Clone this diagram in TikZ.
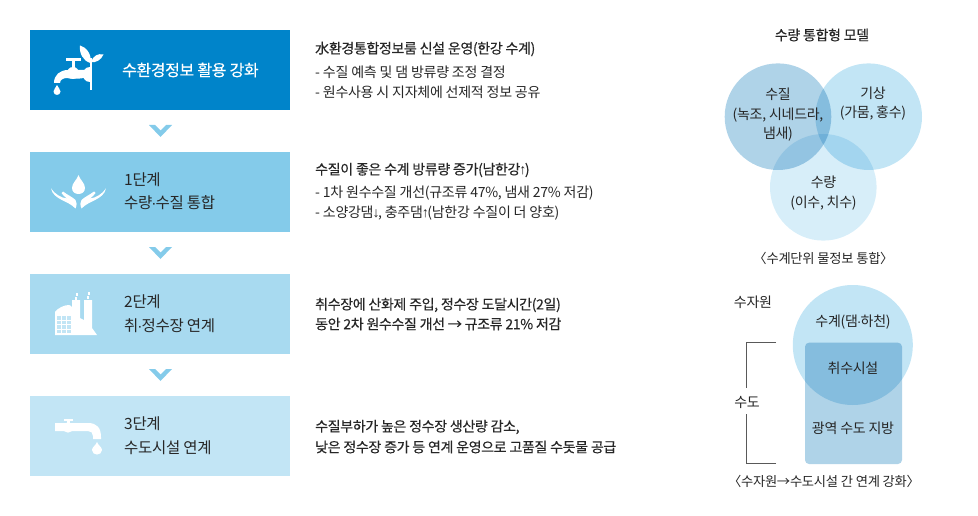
\documentclass[tikz,border=0pt]{standalone}
\usepackage{xcolor}
\usepackage{fontspec}
\setmainfont{Noto Sans CJK KR}
\newfontfamily\medfont[FakeBold=0.35,LetterSpace=-2.5]{Noto Sans CJK KR}
\newfontfamily\regfont[LetterSpace=-2]{Noto Sans CJK KR}
\newfontfamily\arrfont{Liberation Sans}
\newcommand{\thinup}{{\arrfont\kern-1pt ↑\kern-1.5pt}}
\newcommand{\thindown}{{\arrfont\kern-1pt ↓\kern-1.5pt}}
\newcommand{\thindot}{{\arrfont\kern-1pt ·\kern-1pt}}
\definecolor{stepA}{HTML}{0084CA}
\definecolor{stepB}{HTML}{84CBEA}
\definecolor{stepC}{HTML}{A8DAF0}
\definecolor{stepD}{HTML}{C2E5F5}
\definecolor{stepE}{HTML}{AFD3E8}
\definecolor{inkdark}{HTML}{262626}
\tikzset{
  lbl/.style={anchor=west,inner sep=0pt,text=inkdark,font=\regfont\fontsize{14}{16}\selectfont},
  lblhead/.style={lbl,font=\medfont\fontsize{14}{16}\selectfont},
  steptitle/.style={lbl,font=\regfont\fontsize{15.5}{18}\selectfont},
  midlbl/.style={inner sep=0pt,text=inkdark,align=center,font=\regfont\fontsize{14}{19.5}\selectfont},
  midhead/.style={midlbl,font=\medfont\fontsize{14}{19.5}\selectfont},
  caplbl/.style={midlbl,font=\regfont\fontsize{13.3}{16}\selectfont},
  bracket/.style={draw=black!65,line width=0.8pt},
}
\begin{document}
\begin{tikzpicture}[x=1pt,y=-1pt]
\useasboundingbox (0,0) rectangle (978,516);

% step boxes
\fill[stepA] (30,30) rectangle (290,110);
\fill[stepB] (30,152) rectangle (290,232);
\fill[stepC] (30,274) rectangle (290,354);
\fill[stepD] (30,396) rectangle (290,476);

% chevrons
\fill[stepB] (149,125) -- (155,125) -- (160.5,130.5) -- (166,125) -- (172,125) -- (160.5,137) -- cycle;
\fill[stepB] (149,247) -- (155,247) -- (160.5,252.5) -- (166,247) -- (172,247) -- (160.5,259) -- cycle;
\fill[stepB] (149,369) -- (155,369) -- (160.5,374.5) -- (166,369) -- (172,369) -- (160.5,381) -- cycle;

% icon: tap with leaf
\fill[white] (90,58) rectangle (91.5,90);
\fill[white] (90.5,63) .. controls (92,54) and (86,47) .. (80,45.5) .. controls (79,53) and (83,61) .. (90.5,63);
\fill[white] (91,62) .. controls (93,56) and (98,53) .. (103.5,54.5) .. controls (101,60) and (96,63) .. (91,62);
\fill[white] (90,67) .. controls (85,67) and (83,71) .. (83,74.5) .. controls (83,78) and (85,82) .. (90,82) -- cycle;
\fill[white] (84,70) -- (68,70) .. controls (60,70) and (54,75) .. (54,83) -- (60,83) .. controls (60,80) and (63,78) .. (67,78) .. controls (70,79) and (78,79) .. (84,78) -- cycle;
\fill[white] (73,73) circle (6);
\fill[white] (72,58) rectangle (75,70);
\fill[white] (66,58) rectangle (81,61);
\fill[white] (57,85) .. controls (56,88) and (53.5,89) .. (53.5,91.5) .. controls (53.5,96) and (60.5,96) .. (60.5,91.5) .. controls (60.5,89) and (58,88) .. (57,85);

% icon: hands with drop
\fill[white] (78.5,175) .. controls (77,180) and (72,183) .. (72,188) .. controls (72,196) and (85,196) .. (85,188) .. controls (85,183) and (80,180) .. (78.5,175);
\foreach \m in {1,-1}{
  \begin{scope}[shift={(78.5,0)},xscale=\m]
    \fill[white] (-27.5,188.3) .. controls (-25,200) and (-11,200) .. (-3,208.5) .. controls (-1.5,205) and (-1.5,202) .. (-3,200) .. controls (-6,197) and (-11,195) .. (-15.5,191.5) -- (-17,193) .. controls (-15.5,195) and (-14,197) .. (-11.5,198.5) .. controls (-17,198) and (-24,194) .. (-27.5,188.3);
  \end{scope}
}

% icon: factory
\fill[white] (55,335) -- (55,312) .. controls (58,308) and (64,305) .. (69,305) .. controls (70,305) and (71,306) .. (72,307) -- (72,300) -- (80,300) -- (80,318) -- (84,320) -- (84,300) -- (92,300) -- (92,328) -- (97,335) -- cycle;
\fill[white] (75.5,293) rectangle (78,296);
\fill[white] (74.5,297) rectangle (77,300);
\fill[white] (87.5,292) rectangle (90,295);
\fill[white] (86.5,296) rectangle (89,299);
\foreach \cx in {57,62,67}{
  \foreach \cy in {316,320.5,325,329.5}{
    \fill[stepD] (\cx,\cy) rectangle +(4.3,3.8);
  }
}

% icon: tap
\fill[white] (55,423) -- (88,423) .. controls (97,423) and (101,428) .. (101,437) -- (101,439) -- (93,439) -- (93,436) .. controls (93,433) and (91,431) .. (88,431) -- (55,431) -- cycle;
\fill[white] (68,427.5) circle (5.2);
\fill[white] (64,419) rectangle (72.5,421);
\fill[white] (67,420) rectangle (69.5,424);
\fill[white] (97,442) .. controls (95.5,446) and (92,447) .. (92,450) .. controls (92,456) and (102,456) .. (102,450) .. controls (102,447) and (98.5,446) .. (97,442);

% step titles
\node[steptitle,text=white,font=\medfont\fontsize{16}{18}\selectfont] (stepzero) at (122,70) {수환경정보 활용 강화};
\node[steptitle] (stepone) at (124,180) {1단계};
\node[steptitle] (steponesub) at (124,203) {수량\thindot 수질 통합};
\node[steptitle] (steptwo) at (124,302) {2단계};
\node[steptitle] (steptwosub) at (124,326) {취\thindot 정수장 연계};
\node[steptitle] (stepthree) at (124,424) {3단계};
\node[steptitle] (stepthreesub) at (124,448) {수도시설 연계};

% middle text
\node[lblhead] (zeroa) at (315,49) {水환경통합정보룸 신설 운영(한강 수계)};
\node[lbl] (zerob) at (315,72) {- 수질 예측 및 댐 방류량 조정 결정};
\node[lbl] (zeroc) at (315,92) {- 원수사용 시 지자체에 선제적 정보 공유};
\node[lblhead] (onea) at (315,170) {수질이 좋은 수계 방류량 증가(남한강\thinup)};
\node[lbl] (oneb) at (315,193) {- 1차 원수수질 개선(규조류 47\%, 냄새 27\% 저감)};
\node[lbl] (onec) at (315,213) {- 소양강댐\thindown, 충주댐\thinup(남한강 수질이 더 양호)};
\node[lblhead] (twoa) at (315,305) {취수장에 산화제 주입, 정수장 도달시간(2일)};
\node[lblhead] (twob) at (315,324) {동안 2차 원수수질 개선 → 규조류 21\% 저감};
\node[lblhead] (threea) at (315,427) {수질부하가 높은 정수장 생산량 감소,};
\node[lblhead] (threeb) at (315,447) {낮은 정수장 증가 등 연계 운영으로 고품질 수돗물 공급};

% venn model
\fill[stepE] (778,116.7) circle (53.3);
\begin{scope}[blend mode=multiply]
\fill[stepD] (868.7,116.7) circle (53.3);
\fill[stepD!65] (823.3,187.3) circle (53.3);
\end{scope}
\node[midhead] (venntitle) at (822,35) {수량 통합형 모델};
\node[midlbl] (vennwq) at (778,115) {수질\\(녹조, 시네드라,\\냄새)};
\node[midlbl] (vennclim) at (873,103.5) {기상\\(가뭄, 홍수)};
\node[midlbl] (vennqty) at (823.5,193) {수량\\(이수, 치수)};
\node[caplbl] (venncap) at (823.5,258) {〈수계단위 물정보 통합〉};

% source to supply
\fill[stepE,rounded corners=4pt] (805,342.7) rectangle (902,464);
\begin{scope}[blend mode=multiply]
\fill[stepD] (852.8,345) circle (60);
\end{scope}
\node[midlbl] (srclbl) at (753,302) {수자원};
\node[midlbl] (pipelbl) at (747,402) {수도};
\node[midlbl] (basin) at (853,322) {수계(댐\thindot 하천)};
\node[midlbl] (intake) at (853,368) {취수시설};
\node[midlbl] (region) at (853,428) {광역 수도 지방};
\node[caplbl] (srccap) at (824,481) {〈수자원→수도시설 간 연계 강화〉};

\coordinate (brtop) at (776,342);
\coordinate (brbot) at (776,463);
\coordinate (brupper) at (746,388);
\coordinate (brlower) at (746,414);
\draw[bracket] (brtop) -- (brtop -| brupper) -- (brupper);
\draw[bracket] (brbot) -- (brbot -| brlower) -- (brlower);
\end{tikzpicture}
\end{document}
